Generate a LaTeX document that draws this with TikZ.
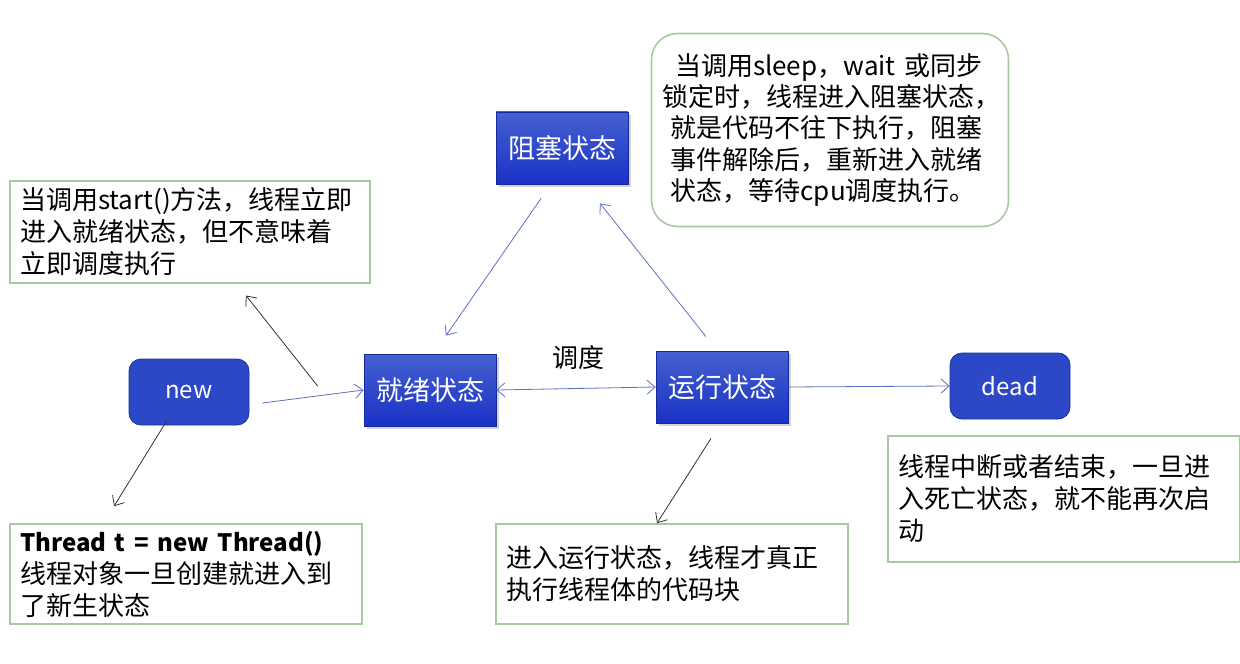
\documentclass[tikz,border=0pt]{standalone}
\usepackage{fontspec}
\setmainfont{Noto Sans CJK SC}
\usetikzlibrary{arrows.meta,shadows}

\definecolor{boxtop}{HTML}{4560CF}
\definecolor{boxbot}{HTML}{1A32C6}
\definecolor{roundfill}{HTML}{2C48C6}
\definecolor{roundline}{HTML}{1D2F9C}
\definecolor{noteline}{HTML}{A8C8A2}
\definecolor{flowline}{HTML}{5D70C2}

\tikzset{
  barb/.tip={Straight Barb[length=4pt,width=7pt]},
  statebox/.style={draw=boxbot!80!black, top color=boxtop, bottom color=boxbot,
    text=white, minimum width=66pt, minimum height=36pt,
    font=\fontsize{13.5}{15}\selectfont,
    drop shadow={shadow xshift=1.5pt, shadow yshift=-1.5pt, opacity=.35}},
  endbox/.style={draw=roundline, fill=roundfill, rounded corners=6pt, text=white,
    minimum width=60pt, minimum height=33pt, font=\fontsize{12}{14}\selectfont},
  note/.style={draw=noteline, thick, align=left, inner xsep=5pt,
    font=\fontsize{13}{16}\selectfont},
  flow/.style={draw=flowline, thin, -barb},
  hint/.style={draw=black!80, thin, -barb}
}

\begin{document}
\begin{tikzpicture}[x=0.5pt, y=-0.5pt]
\useasboundingbox (0,0) rectangle (1240,663);

% states
\node[statebox] (block) at (562,148) {阻塞状态};
\node[statebox] (ready) at (430,390) {就绪状态};
\node[statebox] (run) at (722,387) {运行状态};
\node[endbox] (new) at (189,392) {new};
\node[endbox] (dead) at (1010,386) {dead};

% notes
\node[note, minimum width=180pt, minimum height=49.5pt, text width=170pt] (startnote) at (190,232)
  {当调用start()方法，线程立即\\进入就绪状态，但不意味着\\立即调度执行};
\node[note, rounded corners=13pt, minimum width=178.5pt, minimum height=96.5pt, text width=168pt, font=\fontsize{13}{15.7}\selectfont] (blocknote) at (830,130)
  {\ \,当调用sleep，wait 或同步\\锁定时，线程进入阻塞状态，\\\ 就是代码不往下执行，阻塞\\\ 事件解除后，重新进入就绪\\\ 状态，等待cpu调度执行。};
\node[note, minimum width=176pt, minimum height=50pt, text width=166pt] (newnote) at (186,574)
  {{\fontsize{12}{16}\selectfont\bfseries Thread t = new Thread()}\\线程对象一旦创建就进入到\\了新生状态};
\node[note, minimum width=176pt, minimum height=50pt, text width=166pt] (runnote) at (672,574)
  {进入运行状态，线程才真正\\执行线程体的代码块};
\node[note, minimum width=176pt, minimum height=63pt, text width=166pt] (deadnote) at (1064,499)
  {线程中断或者结束，一旦进\\入死亡状态，就不能再次启\\动};

\node[font=\fontsize{13}{15}\selectfont] (sched) at (578,358) {调度};

% transitions
\draw[flow] ([xshift=6.5pt,yshift=-5.5pt]new.east) -- (ready.west);
\draw[flow, barb-barb] (ready.east) -- (run.west);
\draw[flow] (run.east) -- (dead.west);
\draw[flow] ([xshift=-10.5pt,yshift=-7pt]block.south) -- ([xshift=8pt,yshift=9pt]ready.north);
\draw[flow] ([xshift=-8pt,yshift=7pt]run.north) -- ([xshift=19pt,yshift=-9.5pt]block.south);

% pointers to notes
\draw[hint] ([xshift=-23pt,yshift=2pt]ready.west) -- ([xshift=28pt,yshift=-6pt]startnote.south);
\draw[hint] ([xshift=-11pt,yshift=2.5pt]new.south) -- ([xshift=-36pt,yshift=8.5pt]newnote.north);
\draw[hint] ([xshift=-5.5pt,yshift=-7.5pt]run.south) -- ([xshift=-7.5pt]runnote.north);
\end{tikzpicture}
\end{document}
